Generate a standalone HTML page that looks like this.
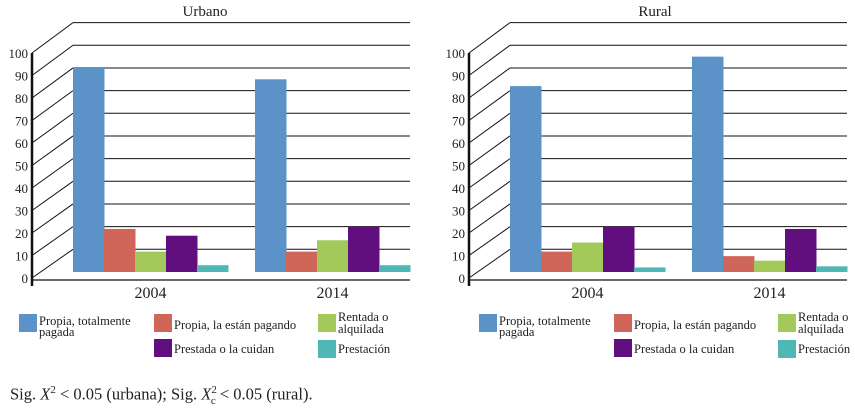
<!DOCTYPE html>
<html><head><meta charset="utf-8"><style>
body{margin:0;background:#fff;width:855px;height:413px;overflow:hidden;font-family:"Liberation Serif",serif;}
text{font-family:'Liberation Serif',serif !important;fill:#222;}
</style></head><body>
<svg id="chart" width="855" height="413" viewBox="0 0 855 413" xmlns="http://www.w3.org/2000/svg" style="font-family:'Liberation Serif',serif"></svg>
<script>
const categories = ["2004","2014"];
const seriesNames = ["Propia, totalmente pagada","Propia, la están pagando","Rentada o alquilada","Prestada o la cuidan","Prestación"];
const urbanValues = [[90,19,9,16,3],[85,9,14,20,3]];
const ruralValues = [[82,9,13,20,2],[95,7,5,19,2.5]];
const yTicks = [0,10,20,30,40,50,60,70,80,90,100];
const colors = ["#5b93c9","#d0655a","#a2c95a","#610f7f","#4fb8b6"];

const svg = document.getElementById('chart');
const NS = "http://www.w3.org/2000/svg";
const FF = "'Liberation Serif', serif";
function mk(tag, attrs, parent){const e=document.createElementNS(NS,tag);for(const k in attrs)e.setAttribute(k,attrs[k]);(parent||svg).appendChild(e);return e;}

function drawPanel(ox, lx, titleX, title, values, panelName){
  const g = mk('g',{});
  
  
  const frontX = ox+32, backX = ox+73, rightX = ox+410;
  const frontY = v => 278 - v*2.25;
  const backY = v => 249.3 - v*2.267;
  const baseY = 272, unit = 2.267;
  const t = mk('text',{x:titleX,y:16,'text-anchor':'middle','font-size':15,'font-family':FF},g);
  t.textContent = title;
  
  
  yTicks.forEach(v=>{
    const l = mk('line',{x1:backX,x2:rightX,y1:backY(v),y2:backY(v),stroke:'#111','stroke-width':1},g);
    
    
    mk('line',{x1:frontX,x2:backX,y1:frontY(v),y2:backY(v),stroke:'#111','stroke-width':1},g);
    const tx = mk('text',{x:frontX-4,y:frontY(v)+5,'text-anchor':'end','font-size':13,'font-family':FF},g);
    tx.textContent = v;
    
    
  });
  const ax = mk('line',{x1:frontX,x2:frontX,y1:frontY(100),y2:286,stroke:'#111','stroke-width':2.5},g);
  
  
  const bx = mk('line',{x1:frontX,x2:rightX,y1:280,y2:280,stroke:'#111','stroke-width':1.2},g);
  
  
  const groupStart = [ox+73, ox+255];
  const bw = 31;
  categories.forEach((c,ci)=>{
    values[ci].forEach((v,si)=>{
      const r = mk('rect',{x:groupStart[ci]+si*bw,y:baseY-v*unit,width:bw+0.5,height:v*unit,fill:colors[si]},g);
      
      
    });
    const cl = mk('text',{x:groupStart[ci]+2.5*bw,y:298,'text-anchor':'middle','font-size':16,'font-family':FF},g);
    cl.textContent = c;
    
    
  });
  const lg = mk('g',{},g);
  
  
  const pos = [[19,314,[["Propia, totalmente",325],["pagada",336]]],
               [154,314,[["Propia, la están pagando",329]]],
               [318,314,[["Rentada o",321],["alquilada",333]]],
               [154,339,[["Prestada o la cuidan",353]]],
               [318,340,[["Prestación",353]]]];
  [0,1,2,3,4].forEach(si=>{
    const p=pos[si];
    const e = mk('g',{},lg);
    
    
    mk('rect',{x:lx+p[0],y:p[1],width:18,height:18,fill:colors[si]},e);
    p[2].forEach(([txt,y])=>{const tt=mk('text',{x:lx+p[0]+20,y:y,'font-size':12.5,'font-family':FF},e);tt.textContent=txt;});
  });
}
drawPanel(0,0,205,"Urbano",urbanValues,"urban-panel");
drawPanel(437,460,655,"Rural",ruralValues,"rural-panel");
</script>
<div style="position:absolute;left:10px;top:384px;font-size:16.5px;color:#222;font-family:'Liberation Serif',serif;">Sig. <i>X</i><sup style="font-size:11px">2</sup> &lt; 0.05 (urbana); Sig. <i>X</i><sup style="font-size:11px">2</sup><sub style="font-size:11px;margin-left:-6px">c</sub> &lt; 0.05 (rural).</div>
</body></html>
